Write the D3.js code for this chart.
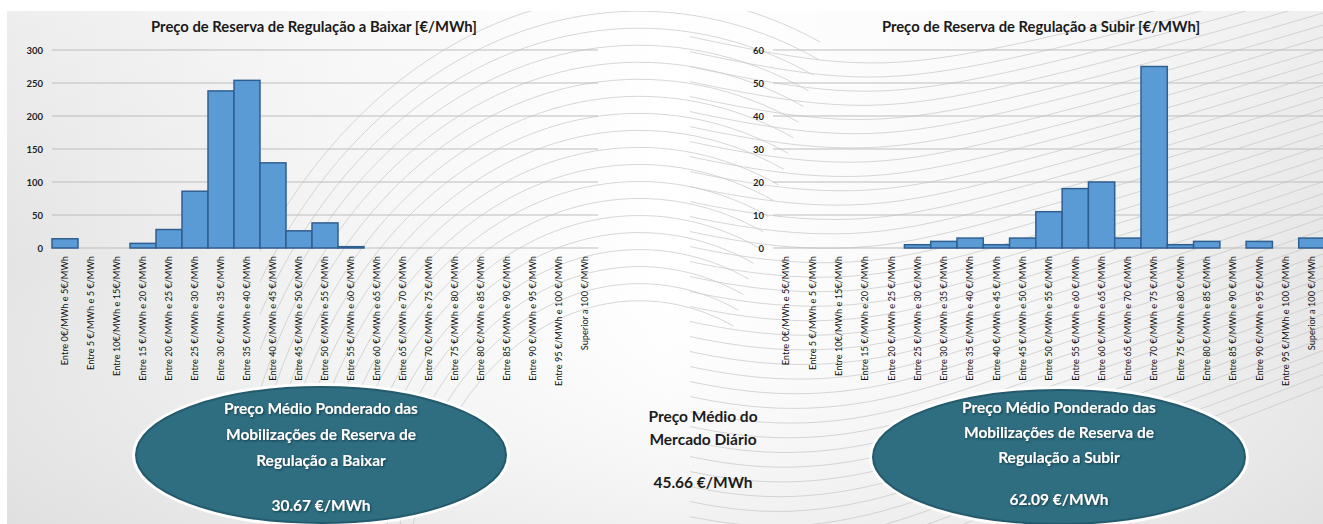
<!DOCTYPE html>
<html>
<head>
<meta charset="utf-8">
<script src="https://cdn.jsdelivr.net/npm/d3@7"></script>
<style>
  html, body { margin: 0; padding: 0; background: #ffffff; }
  svg { display: block; font-family: Lato, "Open Sans", sans-serif; }
</style>
</head>
<body>
<svg id="chart" width="1323" height="524"></svg>
<script>
// Price bins shared by both histograms
const categories = [
  "Entre 0€/MWh e 5€/MWh", "Entre 5 €/MWh e 5 €/MWh", "Entre 10€/MWh e 15€/MWh",
  "Entre 15 €/MWh e 20 €/MWh", "Entre 20 €/MWh e 25 €/MWh", "Entre 25 €/MWh e 30 €/MWh",
  "Entre 30 €/MWh e 35 €/MWh", "Entre 35 €/MWh e 40 €/MWh", "Entre 40 €/MWh e 45 €/MWh",
  "Entre 45 €/MWh e 50 €/MWh", "Entre 50 €/MWh e 55 €/MWh", "Entre 55 €/MWh e 60 €/MWh",
  "Entre 60 €/MWh e 65 €/MWh", "Entre 65 €/MWh e 70 €/MWh", "Entre 70 €/MWh e 75 €/MWh",
  "Entre 75 €/MWh e 80 €/MWh", "Entre 80 €/MWh e 85 €/MWh", "Entre 85 €/MWh e 90 €/MWh",
  "Entre 90 €/MWh e 95 €/MWh", "Entre 95 €/MWh e 100 €/MWh", "Superior a 100 €/MWh"
];

// Downward regulation reserve (counts per price bin)
const baixarValues = [14, 0, 0, 7, 28, 86, 238, 254, 129, 26, 38, 2, 0, 0, 0, 0, 0, 0, 0, 0, 0];
const baixarTicks = [0, 50, 100, 150, 200, 250, 300];

// Upward regulation reserve (counts per price bin)
const subirValues = [0, 0, 0, 0, 0, 1, 2, 3, 1, 3, 11, 18, 20, 3, 55, 1, 2, 0, 2, 0, 3];
const subirTicks = [0, 10, 20, 30, 40, 50, 60];

const baixarTitle = "Preço de Reserva de Regulação a Baixar [€/MWh]";
const subirTitle = "Preço de Reserva de Regulação a Subir [€/MWh]";

const baixarBox = ["Preço Médio Ponderado das", "Mobilizações de Reserva de", "Regulação a Baixar"];
const baixarAvg = "30.67 €/MWh";
const subirBox = ["Preço Médio Ponderado das", "Mobilizações de Reserva de", "Regulação a Subir"];
const subirAvg = "62.09 €/MWh";
const marketBox = ["Preço Médio do", "Mercado Diário"];
const marketAvg = "45.66 €/MWh";

const W = 1323, H = 524;
const svg = d3.select("#chart");
const defs = svg.append("defs");

// ---- background panel -------------------------------------------------
const bg = defs.append("linearGradient").attr("id", "bgGrad").attr("x1", 0).attr("x2", 1).attr("y1", 0).attr("y2", 0);
[["0", "#e4e4e4"], ["0.25", "#f4f4f4"], ["0.5", "#ffffff"], ["0.8", "#f6f6f6"], ["1", "#e6e6e6"]]
  .forEach(([o, c]) => bg.append("stop").attr("offset", o).attr("stop-color", c));
const bgV = defs.append("linearGradient").attr("id", "bgShade").attr("x1", 0).attr("x2", 0).attr("y1", 0).attr("y2", 1);
bgV.append("stop").attr("offset", "0").attr("stop-color", "#ffffff").attr("stop-opacity", 0.35);
bgV.append("stop").attr("offset", "0.5").attr("stop-color", "#ffffff").attr("stop-opacity", 0);
bgV.append("stop").attr("offset", "1").attr("stop-color", "#d8d8d8").attr("stop-opacity", 0.35);

svg.append("rect").attr("x", 7).attr("y", 11).attr("width", W - 7).attr("height", H - 11).attr("fill", "url(#bgGrad)");
svg.append("rect").attr("x", 7).attr("y", 11).attr("width", W - 7).attr("height", H - 11).attr("fill", "url(#bgShade)");

// decorative swirl lines
defs.append("clipPath").attr("id", "arcClip").append("rect").attr("x", 260).attr("y", 11).attr("width", 560).attr("height", H - 11);
const deco = svg.append("g").attr("fill", "none").attr("stroke", "#c4c4c4").attr("stroke-width", 0.8).attr("opacity", 0.85);

const arcs = deco.append("g").attr("clip-path", "url(#arcClip)");
d3.range(300, 600, 16).forEach(ry => {
  const rx = ry * 0.78;
  arcs.append("path").attr("d", `M ${640 - rx} 620 A ${rx} ${ry} 0 0 1 ${640 + rx * 0.4} ${620 - ry * 0.98}`);
});

const wave = d3.line().curve(d3.curveBasis);
defs.append("clipPath").attr("id", "waveClip").append("rect").attr("x", 690).attr("y", 11).attr("width", W - 690).attr("height", H - 11);
const waves = deco.append("g").attr("clip-path", "url(#waveClip)");
d3.range(0, 36).forEach(i => {
  waves.append("path").attr("d", wave([
    [660, 30 + 15 * i], [760, 52 + 15 * i], [880, 70 + 14 * i],
    [1020, 45 + 13 * i], [1180, 5 + 12.5 * i], [1340, -40 + 12 * i]
  ]));
});

// ---- histogram builder -----------------------------------------------
function histogram(opts) {
  const x = d3.scaleBand().domain(categories).range([opts.x0, opts.x1]).padding(0);
  const y = d3.scaleLinear().domain([0, opts.max]).range([248, 50]);
  const g = svg.append("g");

  // horizontal gridlines
  g.append("g").selectAll("line").data(opts.ticks).join("line")
    .attr("x1", opts.x0).attr("x2", Math.min(opts.x1, W))
    .attr("y1", d => y(d)).attr("y2", d => y(d))
    .attr("stroke", "#bdbdbd").attr("stroke-width", 1);

  // y axis labels
  const yAxis = d3.axisLeft(y).tickValues(opts.ticks).tickSize(0).tickPadding(9);
  const ya = g.append("g").attr("transform", `translate(${opts.x0},0)`).call(yAxis);
  ya.select(".domain").remove();
  ya.selectAll("text").attr("font-size", 9.5).attr("font-weight", 700).attr("fill", "#1e1e1e")
    .attr("font-family", "Lato, sans-serif");

  // bars
  g.append("g").selectAll("rect").data(opts.values.map((v, i) => ({ c: categories[i], v })).filter(d => d.v > 0))
    .join("rect")
    .attr("x", d => x(d.c)).attr("width", x.bandwidth())
    .attr("y", d => y(d.v)).attr("height", d => y(0) - y(d.v))
    .attr("fill", "#5b9bd5").attr("stroke", "#2f5f91").attr("stroke-width", 1.5);

  // x axis labels (rotated)
  const xAxis = d3.axisBottom(x).tickSize(0).tickPadding(0);
  const xa = g.append("g").attr("transform", "translate(0,252)").call(xAxis);
  xa.select(".domain").remove();
  xa.selectAll("text")
    .attr("transform", "rotate(-90)")
    .attr("text-anchor", "end")
    .attr("dy", "0.35em").attr("x", -4).attr("y", 0)
    .attr("font-size", 9.2).attr("fill", "#111111")
    .attr("font-family", "Lato, sans-serif");

  // title
  g.append("text").attr("x", opts.titleX).attr("y", 32).attr("text-anchor", "middle")
    .attr("font-size", 14.8).attr("font-weight", 700).attr("fill", "#1a1a1a").text(opts.title);
}

histogram({ x0: 52, x1: 598, max: 300, ticks: baixarTicks, values: baixarValues, title: baixarTitle, titleX: 314 });
histogram({ x0: 773, x1: 1325, max: 60, ticks: subirTicks, values: subirValues, title: subirTitle, titleX: 1041 });

// ---- average price callouts --------------------------------------------
const glow = defs.append("filter").attr("id", "txtShadow").attr("x", "-10%").attr("y", "-30%").attr("width", "120%").attr("height", "160%");
glow.append("feDropShadow").attr("dx", 1).attr("dy", 1).attr("stdDeviation", 0.8).attr("flood-color", "#0b2d38").attr("flood-opacity", 0.8);

function callout(cx, cy, rx, ry, lines, lineYs, avg, avgY) {
  const g = svg.append("g");
  g.append("ellipse").attr("cx", cx).attr("cy", cy).attr("rx", rx + 2).attr("ry", ry + 2)
    .attr("fill", "none").attr("stroke", "#ffffff").attr("stroke-width", 4).attr("opacity", 0.9);
  g.append("ellipse").attr("cx", cx).attr("cy", cy).attr("rx", rx).attr("ry", ry)
    .attr("fill", "#2f6d81").attr("stroke", "#235a6c").attr("stroke-width", 2);
  const t = g.append("g").attr("fill", "#ffffff").attr("font-weight", 700).attr("font-size", 15.5)
    .attr("text-anchor", "middle").attr("filter", "url(#txtShadow)");
  lines.forEach((s, i) => t.append("text").attr("x", cx).attr("y", lineYs[i]).attr("dy", "0.35em").text(s));
  t.append("text").attr("x", cx).attr("y", avgY).attr("dy", "0.35em").text(avg);
}

callout(321, 455, 185, 68, baixarBox, [409, 435, 461], baixarAvg, 506);
callout(1059, 457, 186, 67, subirBox, [408, 433, 458], subirAvg, 500);

const mk = svg.append("g").attr("fill", "#1c1c1c").attr("font-weight", 700).attr("font-size", 15.5).attr("text-anchor", "middle");
marketBox.forEach((s, i) => mk.append("text").attr("x", 703).attr("y", [417, 440][i]).attr("dy", "0.35em").text(s));
mk.append("text").attr("x", 703).attr("y", 483).attr("dy", "0.35em").text(marketAvg);
</script>
</body>
</html>
